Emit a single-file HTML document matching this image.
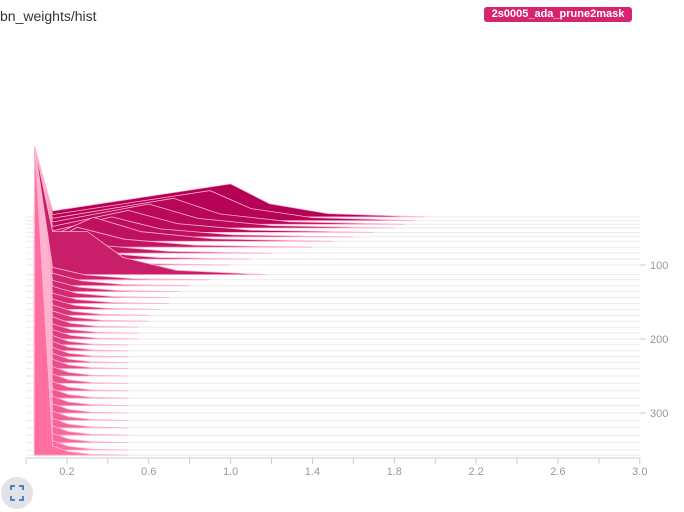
<!DOCTYPE html>
<html><head><meta charset="utf-8"><style>
body{margin:0;background:#fff;width:684px;height:512px;overflow:hidden;font-family:"Liberation Sans",sans-serif}
#title{position:absolute;left:0;top:8px;font-size:14px;color:#333}
#tag{position:absolute;left:484px;top:7px;width:148px;height:15px;background:#d6246e;color:#fff;font-weight:bold;font-size:11px;line-height:15px;text-align:center;border-radius:3px}
svg{position:absolute;left:0;top:0}
</style></head><body>
<div id="title">bn_weights/hist</div>
<div id="tag">2s0005_ada_prune2mask</div>
<svg id="c" width="684" height="512"></svg>
<script>
const steps=[35,40,45,50,56,62,68,76,84,92,100,113,120,128,136,144,152,160,168,176,184,192,200,208,216,224,232,240,250,260,270,280,290,300,310,320,330,340,350,357];
const peakX=[1.0,0.9,0.72,0.6,0.5,0.42,0.33,0.25,0.2,0.18,0.15,0.3,0.14,0.14,0.13,0.13,0.13,0.12,0.12,0.12,0.12,0.12,0.12,0.12,0.12,0.12,0.12,0.12,0.12,0.12,0.12,0.12,0.12,0.12,0.12,0.12,0.12,0.12,0.12,0.12];
const peakH=[33,30,26,24,22,20,24,20,18,16,14,43,12,12,11,11,10,10,10,10,10,9,9,9,9,9,9,9,9,9,9,9,9,9,9,9,9,9,9,9];
const tailX=[1.95,1.9,1.85,1.8,1.7,1.6,1.5,1.4,1.2,1.1,1.0,1.17,0.9,0.8,0.75,0.7,0.7,0.65,0.6,0.6,0.55,0.55,0.55,0.5,0.5,0.5,0.5,0.5,0.5,0.5,0.5,0.5,0.5,0.5,0.5,0.5,0.5,0.5,0.5,0.5];
const xTicks=[0.2,0.6,1.0,1.4,1.8,2.2,2.6,3.0];
const yTicks=[100,200,300];
const NS="http://www.w3.org/2000/svg";
const svg=document.getElementById('c');
const X=v=>26+204.6*v, Y=s=>191+0.74*s;
function mk(t,a){const e=document.createElementNS(NS,t);for(const k in a)e.setAttribute(k,a[k]);svg.appendChild(e);return e;}
steps.forEach(s=>{const l=mk('line',{x1:26,x2:640,y1:Y(s),y2:Y(s),stroke:'#ebebeb','stroke-width':1});

});
const n=steps.length;
steps.forEach((s,i)=>{
  const t=i/(n-1);
  const r=Math.round(180+75*t),g=Math.round(0+110*t),b=Math.round(85+75*t);
  const by=Y(s), spike=by-147;
  const low=i<11?Math.min(peakH[i],6):peakH[i];
  const px=Math.max(peakX[i],0.135), ph=peakH[i];
  const pts=[[0.04,0],[0.043,spike],[0.13,low],[px,ph],[px+0.2*(tailX[i]-px),ph*0.4],[px+0.5*(tailX[i]-px),ph*0.1],[tailX[i],0]];
  const d='M'+pts.map(p=>X(p[0]).toFixed(1)+','+(by-p[1]).toFixed(1)).join(' L')+' Z';
  const p=mk('path',{d:d,fill:`rgb(${r},${g},${b})`,stroke:'#ffb3cf','stroke-width':0.8});
  
  
});
const ax=mk('line',{x1:26,x2:640,y1:458,y2:458,stroke:'#ccc'});


for(let v=0;v<=3.001;v+=0.2){mk('line',{x1:X(v),x2:X(v),y1:458,y2:464,stroke:'#ccc'});}
xTicks.forEach(v=>{const t=mk('text',{x:X(v),y:475,'text-anchor':'middle','font-size':11,fill:'#999'});t.textContent=v.toFixed(1);

});
yTicks.forEach(v=>{mk('line',{x1:640,x2:646,y1:Y(v),y2:Y(v),stroke:'#ccc'});const t=mk('text',{x:650,y:Y(v)+4,'font-size':11,fill:'#999'});t.textContent=v;

});
const btn=mk('circle',{cx:17,cy:493,r:16,fill:'#e3e3e3'});


mk('path',{d:'M11,490 v-4 h4 M19,486 h4 v4 M23,496 v4 h-4 M15,500 h-4 v-4',stroke:'#3b8bd0','stroke-width':2,fill:'none'});
</script>
</body></html>
